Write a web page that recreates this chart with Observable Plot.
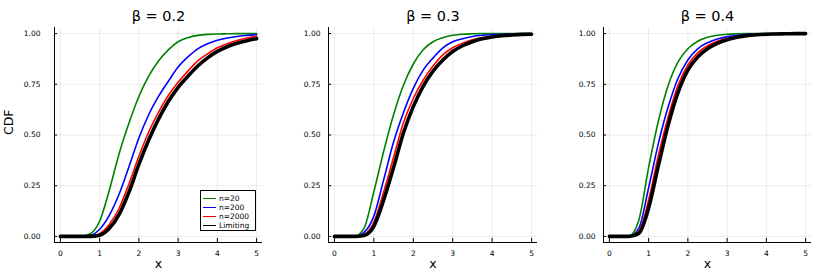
<!DOCTYPE html>
<html>
<head>
<meta charset="utf-8">
<script src="https://cdn.jsdelivr.net/npm/d3@7"></script>
<script src="https://cdn.jsdelivr.net/npm/@observablehq/plot@0.6"></script>
<style>
  html, body { margin: 0; padding: 0; background: #fff; }
  #chart { position: relative; width: 830px; height: 277px; font-family: "DejaVu Sans", sans-serif; }
  #chart svg { position: absolute; top: 0; }
  .legend { position: absolute; background: #fff; border: 1px solid #000; font-size: 7.5px; line-height: 9px; padding: 3px 3px 2px 2px; box-sizing: border-box; }
  .legend .row { display: flex; align-items: center; white-space: nowrap; }
  .legend .sw { display: inline-block; width: 13px; margin-right: 3px; }
</style>
</head>
<body>
<div id="chart"></div>
<script>
// ---- data ----
const xs = [0, 0.25, 0.5, 0.75, 1, 1.25, 1.5, 1.75, 2, 2.25, 2.5, 2.75, 3, 3.25, 3.5, 3.75, 4, 4.25, 4.5, 4.75, 5];
const betaTitles = ["β = 0.2", "β = 0.3", "β = 0.4"];
const seriesLabels = ["n=20", "n=200", "n=2000", "Limiting"];
const xTicks = [0, 1, 2, 3, 4, 5];
const yTicks = [0, 0.25, 0.5, 0.75, 1];

// beta = 0.2
const n20_b02   = [0,0,0,0.012,0.075,0.23,0.41,0.56,0.69,0.79,0.865,0.92,0.96,0.98,0.991,0.996,0.998,0.999,1,1,1];
const n200_b02  = [0,0,0,0.004,0.035,0.105,0.21,0.345,0.485,0.60,0.69,0.765,0.835,0.885,0.925,0.95,0.967,0.978,0.986,0.991,0.995];
const n2000_b02 = [0,0,0,0,0.014,0.06,0.14,0.26,0.395,0.515,0.612,0.695,0.76,0.815,0.865,0.9,0.93,0.95,0.966,0.978,0.987];
const lim_b02   = [0,0,0,0,0.006,0.04,0.11,0.22,0.355,0.475,0.578,0.665,0.735,0.79,0.84,0.88,0.912,0.935,0.952,0.965,0.975];
// beta = 0.3
const n20_b03   = [0,0,0,0.04,0.22,0.42,0.60,0.745,0.85,0.92,0.96,0.98,0.992,0.997,0.999,1,1,1,1,1,1];
const n200_b03  = [0,0,0,0.02,0.10,0.28,0.465,0.61,0.73,0.82,0.88,0.93,0.96,0.975,0.986,0.992,0.995,0.997,0.998,0.999,1];
const n2000_b03 = [0,0,0,0.01,0.07,0.22,0.39,0.56,0.68,0.77,0.84,0.895,0.93,0.953,0.97,0.98,0.987,0.992,0.995,0.997,0.998];
const lim_b03   = [0,0,0,0.005,0.05,0.18,0.34,0.51,0.64,0.74,0.815,0.87,0.912,0.94,0.96,0.974,0.983,0.989,0.993,0.996,0.997];
// beta = 0.4
const n20_b04   = [0,0,0.002,0.08,0.34,0.57,0.745,0.86,0.925,0.962,0.982,0.992,0.997,0.999,1,1,1,1,1,1,1];
const n200_b04  = [0,0,0,0.04,0.24,0.46,0.64,0.78,0.87,0.925,0.955,0.973,0.985,0.992,0.996,0.998,0.999,1,1,1,1];
const n2000_b04 = [0,0,0,0.025,0.18,0.40,0.59,0.745,0.845,0.905,0.94,0.962,0.977,0.987,0.993,0.996,0.998,0.999,1,1,1];
const lim_b04   = [0,0,0,0.015,0.14,0.35,0.55,0.71,0.82,0.885,0.925,0.952,0.97,0.982,0.99,0.994,0.997,0.998,0.999,1,1];

const panelSeries = [
  [n20_b02, n200_b02, n2000_b02, lim_b02],
  [n20_b03, n200_b03, n2000_b03, lim_b03],
  [n20_b04, n200_b04, n2000_b04, lim_b04]
];

// ---- styles ----
const seriesColors = ["#008000", "#0000ff", "#ff0000", "#000000"];
const seriesWidths = [1.6, 1.6, 1.6, 3.6];
const xDomain = [-0.15, 5.15];
const yDomain = [-0.03, 1.03];
const layout = [
  {left: 0,   ml: 54, mr: 15, pad: 14},
  {left: 276, ml: 52, mr: 16, pad: 8},
  {left: 553, ml: 50, mr: 19, pad: 8}
];

const chart = document.getElementById("chart");

panelSeries.forEach((series, p) => {
  const L = layout[p];
  const marks = [
    Plot.ruleX(xTicks, {x: d => d, stroke: "#000", strokeOpacity: 0.1, strokeWidth: 0.8}),
    Plot.ruleY(yTicks, {y: d => d, stroke: "#000", strokeOpacity: 0.1, strokeWidth: 0.8}),
    // axis lines
    Plot.ruleY([yDomain[0]], {y: d => d, stroke: "#000", strokeWidth: 1}),
    Plot.ruleX([xDomain[0]], {x: d => d, stroke: "#000", strokeWidth: 1}),
    // inward ticks
    Plot.ruleX(xTicks, {x: d => d, y1: yDomain[0], y2: yDomain[0] + 0.02, stroke: "#000", strokeWidth: 1}),
    Plot.ruleY(yTicks, {y: d => d, x1: xDomain[0], x2: xDomain[0] + 0.08, stroke: "#000", strokeWidth: 1})
  ];
  series.forEach((vals, k) => {
    const rows = xs.map((x, j) => ({x, y: vals[j]}));
    marks.push(Plot.line(rows, {x: "x", y: "y", stroke: seriesColors[k], strokeWidth: seriesWidths[k], curve: "monotone-x"}));
  });
  marks.push(Plot.text([betaTitles[p]], {text: d => d, frameAnchor: "top", dy: -17, fontSize: 14.5, fontWeight: 400, fill: "#000"}));
  marks.push(Plot.text(["x"], {text: d => d, frameAnchor: "bottom", dy: 25, fontSize: 12.5, fontWeight: 400, fill: "#000"}));
  if (p === 0) {
    marks.push(Plot.text(["CDF"], {text: d => d, frameAnchor: "left", dx: -46, rotate: -90, fontSize: 12.5, fontWeight: 400, fill: "#000"}));
  }
  const svg = Plot.plot({
    width: 277,
    height: 277,
    marginTop: 27,
    marginBottom: 35,
    marginLeft: L.ml,
    marginRight: L.mr,
    x: {domain: xDomain, ticks: xTicks, tickSize: 0, tickPadding: 8, label: null, tickFormat: d3.format("d")},
    y: {domain: yDomain, ticks: yTicks, tickSize: 0, tickPadding: L.pad, label: null, tickFormat: d3.format(".2f")},
    style: {fontFamily: "DejaVu Sans, sans-serif", fontSize: "7.5px", color: "#000", background: "transparent", overflow: "visible"},
    marks
  });
  svg.style.left = L.left + "px";
  chart.appendChild(svg);
});

// legend (panel 1)
const legend = document.createElement("div");
legend.className = "legend";
legend.style.left = "200px";
legend.style.top = "190px";
legend.style.width = "56px";
legend.style.height = "41px";
seriesLabels.forEach((lab, k) => {
  const row = document.createElement("div");
  row.className = "row";
  const sw = document.createElement("span");
  sw.className = "sw";
  sw.style.borderTop = (k === 3 ? 1.5 : 1.2) + "px solid " + seriesColors[k];
  row.appendChild(sw);
  row.appendChild(document.createTextNode(lab));
  legend.appendChild(row);
});
chart.appendChild(legend);
</script>
</body>
</html>
